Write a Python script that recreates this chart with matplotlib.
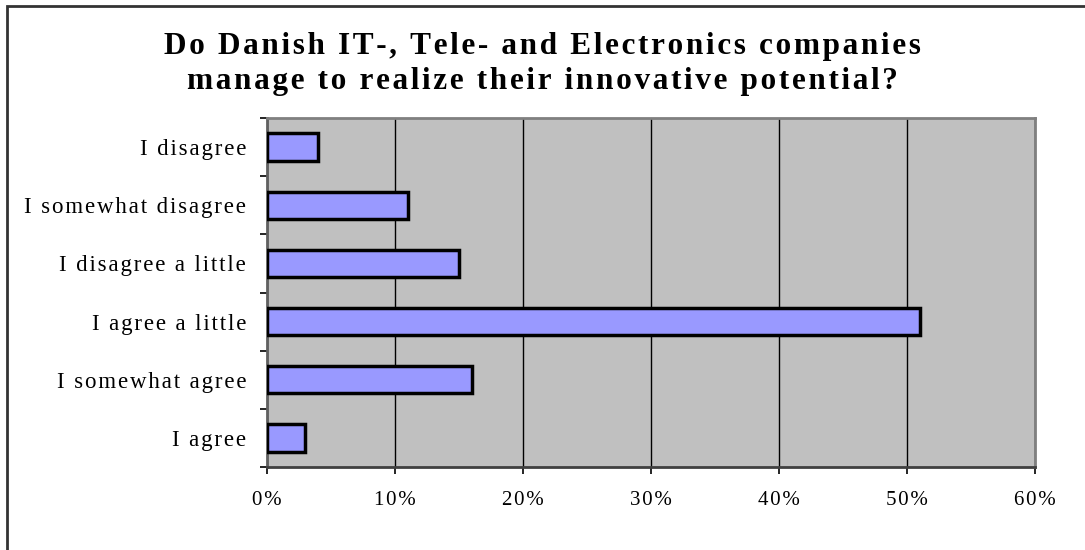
import matplotlib.pyplot as plt
from matplotlib.patches import Rectangle
import numpy as np

# answers, top to bottom as in the chart
labels = ['I disagree', 'I somewhat disagree', 'I disagree a little',
          'I agree a little', 'I somewhat agree', 'I agree']
shares = [4, 11, 15, 51, 16, 3]   # percent

title_lines = ['Do Danish IT-, Tele- and Electronics companies',
               'manage to realize their innovative potential?']
xticks = [0, 10, 20, 30, 40, 50, 60]

plt.rcParams['font.family'] = ['Liberation Serif', 'DejaVu Serif']


def spaced(s, sep='\u200a'):
    # the original text is drawn with wide letter spacing
    return sep.join(s)


fig = plt.figure(figsize=(10.85, 5.5), dpi=100)
ax = fig.add_axes([267/1085, 1 - 467/550, 768/1085, 349/550])
ax.set_facecolor('#C0C0C0')

y = np.arange(len(labels))[::-1]
ax.barh(y, shares, height=0.47, color='#9999FF', edgecolor='black',
        linewidth=2.5, zorder=3)

ax.set_xlim(0, 60)
ax.set_ylim(-0.5, len(labels) - 0.5)

ax.set_xticks(xticks)
ax.set_xticklabels([spaced(f'{v}%') for v in xticks])
ax.xaxis.grid(True, color='black', linewidth=1)
ax.set_axisbelow(True)

# ticks on the category borders, labels in the middle
ax.set_yticks(np.arange(len(labels) + 1) - 0.5)
ax.set_yticklabels([])
ax.set_yticks(y, minor=True)
ax.set_yticklabels([spaced(l) for l in labels], minor=True)
ax.tick_params(axis='y', which='minor', length=0, pad=15, labelsize=16.5)
ax.tick_params(axis='y', which='major', length=5, width=1.2, direction='out')
ax.tick_params(axis='x', length=5, width=1.2, direction='out', pad=12,
               labelsize=15)

for s in ax.spines.values():
    s.set_color('#808080')
    s.set_linewidth(2)
ax.spines['left'].set_color('#606060')
ax.spines['bottom'].set_color('#404040')

for line, base in zip(title_lines, [54, 89]):
    fig.text(0.5, 1 - base/550, spaced(line),
             ha='center', va='baseline', fontsize=22.5, fontweight='bold')

# outer frame (left and top only show)
fig.patches.append(Rectangle((7/1085, -0.1), 1.2, 1 - 6/550 + 0.1,
                             transform=fig.transFigure, fill=False,
                             edgecolor='#333333', linewidth=2))

fig.savefig('out.png', dpi=100)
